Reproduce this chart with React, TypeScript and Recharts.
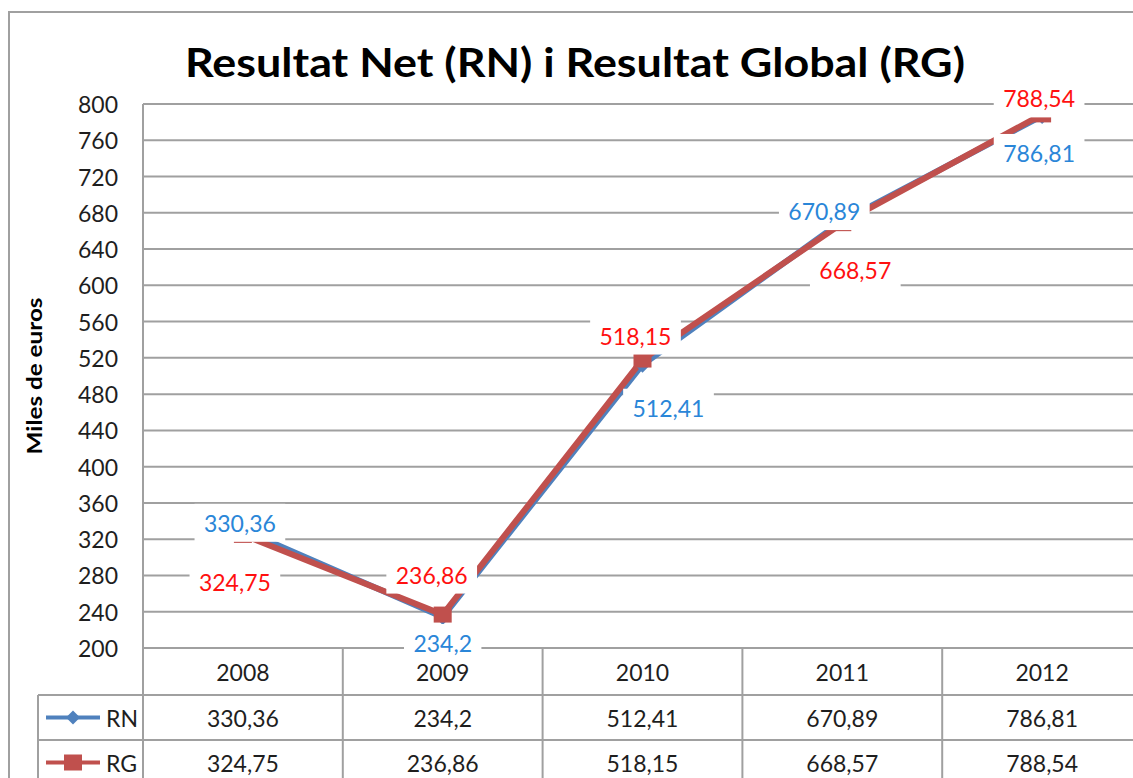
import React from 'react';
import { LineChart, Line, XAxis, YAxis, CartesianGrid, LabelList } from 'recharts';

const CATEGORIES = ['2008', '2009', '2010', '2011', '2012'];
const RN_VALUES = [330.36, 234.2, 512.41, 670.89, 786.81];
const RG_VALUES = [324.75, 236.86, 518.15, 668.57, 788.54];
const Y_TICKS = [200, 240, 280, 320, 360, 400, 440, 480, 520, 560, 600, 640, 680, 720, 760, 800];
const SERIES_NAMES = ['RN', 'RG'];
const TITLE = 'Resultat Net (RN) i Resultat Global (RG)';
const Y_LABEL = 'Miles de euros';

// label placement (text centre offset from the point, px)
const RN_LABEL_OFFSETS = [[-3, -7], [0, 26], [26, 43], [-18, -10], [-3, 37]];
const RG_LABEL_OFFSETS = [[-8, 47], [-11, -40], [-7, -24], [13, 47], [-3, -16]];

const data = CATEGORIES.map((c, i) => ({ year: c, rn: RN_VALUES[i], rg: RG_VALUES[i] }));

const FONT = 'Lato, "Open Sans", sans-serif';
const FS = 23;
const GRID = '#a0a0a0';
const TEXT = '#1e1e1e';
const BLUE = '#4f81bd';
const RED = '#c0504d';
const BLUE_LBL = '#2a86d8';
const RED_LBL = '#ff1010';

const CHART_W = 1160;
const CHART_H = 800;
const PLOT_LEFT = 143;
const PLOT_TOP = 104;
const PLOT_RIGHT = 1142;
const PLOT_BOTTOM = 648;
const YAXIS_W = 60;
const BAND = (PLOT_RIGHT - PLOT_LEFT) / CATEGORIES.length;
const ROW1 = 695;
const ROW2 = 740;
const ROW3 = 785;
const LEGEND_LEFT = 38;

const fmt = (v: number) => String(v).replace('.', ',');
const estWidth = (s: string) => {
  let w = 0;
  for (const ch of s) w += ch === ',' ? 6.2 : 13.3;
  return w;
};

const makeLabel = (offsets: number[][], color: string) => (props: any) => {
  const { x, y, value, index } = props;
  if (x == null || y == null) return null;
  const [dx, dy] = offsets[index] || [0, 0];
  const s = fmt(value);
  const w = estWidth(s) + 18;
  const h = 38;
  const cx = x + dx;
  const cy = y + dy;
  return (
    <g key={`lbl-${index}`}>
      <rect x={cx - w / 2} y={cy - h / 2} width={w} height={h} fill="#fff" />
      <text x={cx} y={cy} textAnchor="middle" dominantBaseline="central" fontFamily={FONT} fontSize={FS} fill={color}>
        {s}
      </text>
    </g>
  );
};

const Diamond = ({ cx, cy, size, color }: any) => (
  <path d={`M${cx},${cy - size} L${cx + size},${cy} L${cx},${cy + size} L${cx - size},${cy} Z`} fill={color} />
);

const rnDot = (props: any) => {
  const { cx, cy, index } = props;
  if (cx == null || cy == null) return <g key={`rnd-${index}`} />;
  return <Diamond key={`rnd-${index}`} cx={cx} cy={cy} size={8} color={BLUE} />;
};
const rgDot = (props: any) => {
  const { cx, cy, index } = props;
  if (cx == null || cy == null) return <g key={`rgd-${index}`} />;
  return <rect key={`rgd-${index}`} x={cx - 9} y={cy - 8} width={18} height={16} fill={RED} />;
};

const YTick = (props: any) => {
  const { y, payload } = props;
  return (
    <text x={118} y={y} textAnchor="end" dominantBaseline="central" fontFamily={FONT} fontSize={FS} fill={TEXT}>
      {payload.value}
    </text>
  );
};

const cellText = (x: number, y: number, s: string) => (
  <text x={x} y={y} textAnchor="middle" dominantBaseline="central" fontFamily={FONT} fontSize={FS} fill={TEXT}>
    {s}
  </text>
);

const TableTick = (props: any) => {
  const { x, payload, index } = props;
  const left = x - BAND / 2;
  const right = x + BAND / 2;
  const legend =
    index === 0 ? (
      <g>
        <line x1={LEGEND_LEFT} y1={ROW1} x2={left} y2={ROW1} stroke={GRID} strokeWidth={2} />
        <line x1={LEGEND_LEFT} y1={ROW2} x2={left} y2={ROW2} stroke={GRID} strokeWidth={2} />
        <line x1={LEGEND_LEFT} y1={ROW3} x2={left} y2={ROW3} stroke={GRID} strokeWidth={2} />
        <line x1={LEGEND_LEFT} y1={ROW1} x2={LEGEND_LEFT} y2={ROW3} stroke={GRID} strokeWidth={2} />
        <line x1={left} y1={PLOT_BOTTOM} x2={left} y2={ROW3} stroke={GRID} strokeWidth={2} />
        <line x1={46} y1={(ROW1 + ROW2) / 2} x2={100} y2={(ROW1 + ROW2) / 2} stroke={BLUE} strokeWidth={4} />
        <Diamond cx={73} cy={(ROW1 + ROW2) / 2} size={7} color={BLUE} />
        <text x={106} y={(ROW1 + ROW2) / 2} dominantBaseline="central" fontFamily={FONT} fontSize={FS} fill={TEXT}>
          {SERIES_NAMES[0]}
        </text>
        <line x1={46} y1={(ROW2 + ROW3) / 2} x2={100} y2={(ROW2 + ROW3) / 2} stroke={RED} strokeWidth={4} />
        <rect x={64} y={(ROW2 + ROW3) / 2 - 8} width={18} height={16} fill={RED} />
        <text x={106} y={(ROW2 + ROW3) / 2} dominantBaseline="central" fontFamily={FONT} fontSize={FS} fill={TEXT}>
          {SERIES_NAMES[1]}
        </text>
      </g>
    ) : null;
  return (
    <g>
      {legend}
      <line x1={left} y1={ROW1} x2={right} y2={ROW1} stroke={GRID} strokeWidth={2} />
      <line x1={left} y1={ROW2} x2={right} y2={ROW2} stroke={GRID} strokeWidth={2} />
      <line x1={left} y1={ROW3} x2={right} y2={ROW3} stroke={GRID} strokeWidth={2} />
      <line x1={right} y1={PLOT_BOTTOM} x2={right} y2={ROW3} stroke={GRID} strokeWidth={2} />
      {cellText(x, (PLOT_BOTTOM + ROW1) / 2, payload.value)}
      {cellText(x, (ROW1 + ROW2) / 2, fmt(RN_VALUES[index]))}
      {cellText(x, (ROW2 + ROW3) / 2, fmt(RG_VALUES[index]))}
    </g>
  );
};

const YLabel = () => (
  <text
    x={33}
    y={376}
    transform="rotate(-90 33 376)"
    textAnchor="middle"
    dominantBaseline="central"
    fontFamily={FONT}
    fontWeight={700}
    fontSize={21}
    fill="#000"
    textLength={157}
    lengthAdjust="spacingAndGlyphs"
  >
    {Y_LABEL}
  </text>
);

export default function App() {
  return (
    <div style={{ position: 'absolute', left: 0, top: 0, width: 1133, height: 778, overflow: 'hidden', background: '#fff' }}>
      <div
        style={{
          position: 'absolute',
          left: 8,
          top: 11,
          width: 1300,
          height: 900,
          border: `2px solid ${GRID}`,
          boxSizing: 'border-box',
        }}
      />
      <svg style={{ position: 'absolute', left: 0, top: 0 }} width={1133} height={100}>
        <text
          x={575}
          y={77}
          textAnchor="middle"
          fontFamily={FONT}
          fontWeight={700}
          fontSize={40}
          fill="#000"
          textLength={780}
          lengthAdjust="spacingAndGlyphs"
        >
          {TITLE}
        </text>
      </svg>
      <div style={{ position: 'absolute', left: 0, top: 0 }}>
        <LineChart
          width={CHART_W}
          height={CHART_H}
          data={data}
          margin={{ top: PLOT_TOP, right: CHART_W - PLOT_RIGHT, bottom: 0, left: PLOT_LEFT - YAXIS_W }}
        >
          <CartesianGrid vertical={false} stroke={GRID} strokeWidth={2} />
          <XAxis
            dataKey="year"
            height={CHART_H - PLOT_BOTTOM}
            axisLine={false}
            tickLine={false}
            interval={0}
            padding={{ left: BAND / 2, right: BAND / 2 }}
            tick={(p: any) => <TableTick {...p} />}
          />
          <YAxis
            width={YAXIS_W}
            domain={[200, 800]}
            ticks={Y_TICKS}
            interval={0}
            axisLine={{ stroke: GRID, strokeWidth: 2 }}
            tickLine={false}
            tick={(p: any) => <YTick {...p} />}
            label={<YLabel />}
          />
          <Line dataKey="rn" stroke={BLUE} strokeWidth={6} dot={rnDot} activeDot={false} isAnimationActive={false} />
          <Line dataKey="rg" stroke={RED} strokeWidth={6} dot={rgDot} activeDot={false} isAnimationActive={false} />
          <Line dataKey="rn" stroke="none" dot={false} activeDot={false} isAnimationActive={false} legendType="none">
            <LabelList dataKey="rn" content={makeLabel(RN_LABEL_OFFSETS, BLUE_LBL)} />
          </Line>
          <Line dataKey="rg" stroke="none" dot={false} activeDot={false} isAnimationActive={false} legendType="none">
            <LabelList dataKey="rg" content={makeLabel(RG_LABEL_OFFSETS, RED_LBL)} />
          </Line>
        </LineChart>
      </div>
    </div>
  );
}
